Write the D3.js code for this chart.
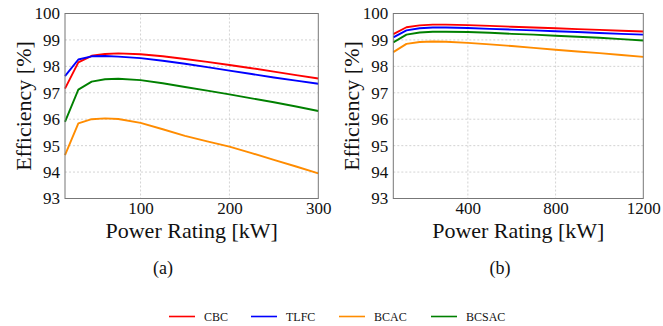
<!DOCTYPE html>
<html>
<head>
<meta charset="utf-8">
<script src="https://cdn.jsdelivr.net/npm/d3@7"></script>
</head>
<body style="margin:0">
<svg id="chart" width="663" height="326"></svg>
<script>
// panel (a): up to 300 kW
const powerA = [15, 30, 45, 60, 75, 100, 125, 150, 175, 200, 225, 250, 275, 300];
const cbcA   = [97.16, 98.15, 98.40, 98.47, 98.49, 98.46, 98.38, 98.28, 98.17, 98.05, 97.93, 97.80, 97.67, 97.54];
const tlfcA  = [97.63, 98.26, 98.38, 98.39, 98.37, 98.31, 98.21, 98.10, 97.97, 97.84, 97.71, 97.58, 97.46, 97.34];
const bcacA  = [94.64, 95.84, 96.00, 96.03, 96.01, 95.86, 95.62, 95.37, 95.16, 94.96, 94.72, 94.46, 94.21, 93.95];
const bcsacA = [95.90, 97.12, 97.42, 97.51, 97.53, 97.48, 97.36, 97.22, 97.08, 96.94, 96.79, 96.64, 96.48, 96.31];

// panel (b): up to 1200 kW
const powerB = [60, 120, 180, 240, 300, 400, 500, 600, 700, 800, 900, 1000, 1100, 1200];
const cbcB   = [99.22, 99.48, 99.55, 99.58, 99.58, 99.56, 99.53, 99.50, 99.47, 99.44, 99.41, 99.38, 99.35, 99.32];
const tlfcB  = [99.10, 99.36, 99.44, 99.47, 99.47, 99.45, 99.42, 99.39, 99.36, 99.33, 99.30, 99.26, 99.23, 99.20];
const bcacB  = [98.54, 98.85, 98.92, 98.94, 98.93, 98.89, 98.83, 98.77, 98.70, 98.63, 98.56, 98.50, 98.43, 98.36];
const bcsacB = [98.91, 99.20, 99.28, 99.31, 99.31, 99.30, 99.27, 99.23, 99.20, 99.16, 99.12, 99.08, 99.03, 98.98];

const seriesNames = ['CBC', 'TLFC', 'BCAC', 'BCSAC'];
const colors = ['#ff0000', '#0000ff', '#ff8c00', '#008000'];
const yTicks = [93, 94, 95, 96, 97, 98, 99, 100];
const xTicksA = [100, 200, 300];
const xTicksB = [400, 800, 1200];

const FONT = 'Liberation Serif';
const svg = d3.select('#chart');
const fmt = d3.format('d');

function panel(left, right, xs, ys, xDomain, xTicks, tag) {
    const top = 13.5, bottom = 198.5;
    const x = d3.scaleLinear().domain(xDomain).range([left, right]);
    const y = d3.scaleLinear().domain([93, 100]).range([bottom, top]);
    const g = svg.append('g');

    // grid
    g.selectAll('.gy').data(yTicks.slice(1, -1)).join('line')
        .attr('x1', left).attr('x2', right)
        .attr('y1', d => y(d)).attr('y2', d => y(d))
        .attr('stroke', '#c8c8c8').attr('stroke-width', 0.8).attr('stroke-dasharray', '2,2');
    g.selectAll('.gx').data(xTicks.filter(t => t < xDomain[1])).join('line')
        .attr('x1', d => x(d)).attr('x2', d => x(d))
        .attr('y1', top).attr('y2', bottom)
        .attr('stroke', '#c8c8c8').attr('stroke-width', 0.8).attr('stroke-dasharray', '2,2');

    // series
    const line = d3.line().x((d, i) => x(xs[i])).y(d => y(d));
    ys.forEach((vals, k) => {
        g.append('path').datum(vals)
            .attr('d', line)
            .attr('fill', 'none')
            .attr('stroke', colors[k])
            .attr('stroke-width', 1.9)
            .attr('stroke-linejoin', 'round');
    });

    // frame
    g.append('rect')
        .attr('x', left).attr('y', top)
        .attr('width', right - left).attr('height', bottom - top)
        .attr('fill', 'none').attr('stroke', '#777').attr('stroke-width', 1);

    // axes
    const yAxis = d3.axisLeft(y).tickValues(yTicks).tickFormat(fmt).tickSize(0).tickPadding(5);
    g.append('g').attr('transform', `translate(${left},0)`).call(yAxis)
        .call(a => a.select('.domain').remove())
        .selectAll('text').attr('font-size', 17);
    const xAxis = d3.axisBottom(x).tickValues(xTicks).tickFormat(fmt).tickSize(0).tickPadding(5);
    g.append('g').attr('transform', `translate(0,${bottom})`).call(xAxis)
        .call(a => a.select('.domain').remove())
        .selectAll('text').attr('font-size', 17).attr('dy', '0.62em');

    // titles
    g.append('text')
        .attr('x', (left + right) / 2).attr('y', 237.5)
        .attr('text-anchor', 'middle').attr('font-size', 22)
        .text('Power Rating [kW]');
    g.append('text')
        .attr('transform', `translate(${left - 34},${(top + bottom) / 2}) rotate(-90)`)
        .attr('text-anchor', 'middle').attr('font-size', 22)
        .text('Efficiency [%]');
    g.append('text')
        .attr('x', tag.x).attr('y', 274)
        .attr('text-anchor', 'middle').attr('font-size', 18)
        .text(tag.label);
}

panel(65, 318.3, powerA, [cbcA, tlfcA, bcacA, bcsacA], [15, 300], xTicksA, {x: 163, label: '(a)'});
panel(393.3, 643.3, powerB, [cbcB, tlfcB, bcacB, bcsacB], [60, 1200], xTicksB, {x: 500, label: '(b)'});

// legend
const legendX = [169, 251, 339, 431];
const legend = svg.append('g').selectAll('g').data(seriesNames).join('g')
    .attr('transform', (d, i) => `translate(${legendX[i]},316.5)`);
legend.append('line').attr('x1', 0).attr('x2', 26)
    .attr('stroke', (d, i) => colors[i]).attr('stroke-width', 1.6);
legend.append('text').attr('x', 35).attr('y', 4.2)
    .attr('font-size', 12).text(d => d);

// every text gets the serif face and dark fill directly
svg.selectAll('text').attr('font-family', FONT).attr('fill', '#111');
</script>
</body>
</html>
